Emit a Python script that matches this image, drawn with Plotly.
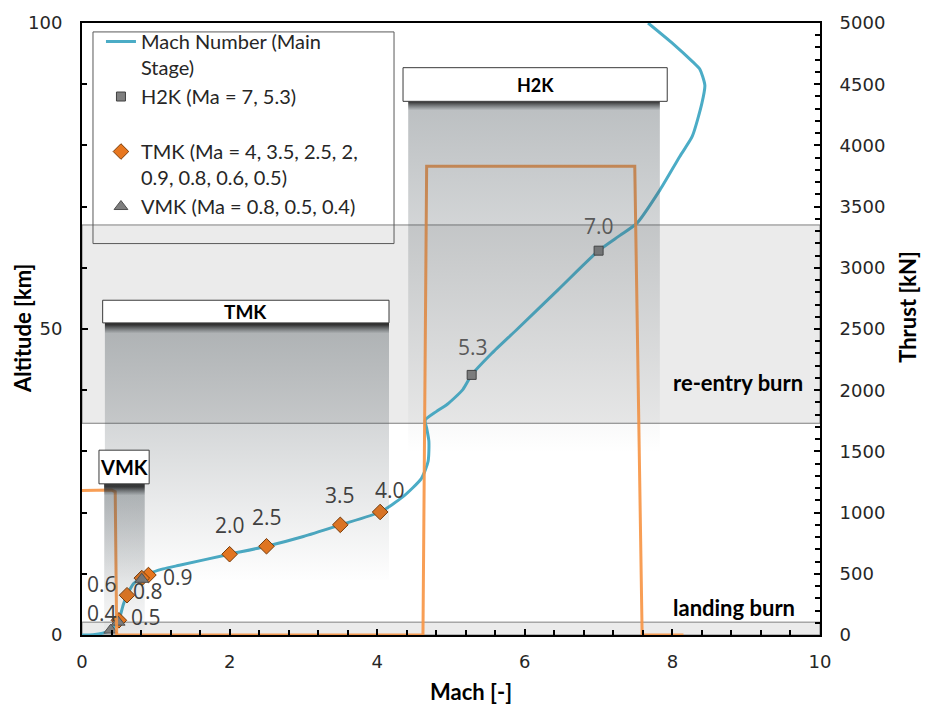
import plotly.graph_objects as go

# ---------------- data ----------------
# Mach number of the main stage along the trajectory (Mach, altitude km)
mach_curve_mach = [0.00, 0.15, 0.28, 0.39, 0.45, 0.50, 0.56, 0.61, 0.70, 0.81, 0.90, 1.10, 1.32,
                   2.00, 2.50, 3.00, 3.50, 4.04, 4.35, 4.60, 4.69, 4.70, 4.67, 4.65, 4.80, 4.95,
                   5.16, 5.28, 5.55, 5.90, 6.45, 7.00, 7.29, 7.52, 7.83, 8.10, 8.27, 8.40, 8.44,
                   8.37, 8.28, 8.01, 7.67]
mach_curve_alt = [0.0, 0.05, 0.3, 0.8, 1.5, 2.4, 5.0, 6.5, 8.4, 9.4, 10.0, 10.8, 11.4,
                  13.2, 14.5, 16.1, 18.0, 20.1, 22.6, 25.6, 28.4, 31.7, 33.8, 35.1, 36.5, 37.7,
                  40.1, 42.5, 46.0, 50.0, 56.4, 62.8, 65.3, 67.3, 72.7, 78.2, 81.5, 86.9, 89.8,
                  92.5, 93.6, 96.6, 100.0]

# Thrust (kN) vs Mach
thrust_mach = [0.00, 0.40, 0.45, 0.47, 4.62, 4.67, 7.49, 7.59, 8.15]
thrust_kN = [1180, 1185, 1170, 0, 0, 3830, 3830, 0, 0]

# Engine measurement points
h2k_mach = [7.00, 5.28]
h2k_alt = [62.8, 42.5]
h2k_labels = ["7.0", "5.3"]

tmk_mach = [4.04, 3.50, 2.50, 2.00, 0.90, 0.81, 0.61, 0.50]
tmk_alt = [20.1, 18.0, 14.5, 13.2, 9.8, 9.3, 6.5, 2.4]
tmk_labels = ["4.0", "3.5", "2.5", "2.0", "0.9", "0.8", "0.6", "0.5"]

vmk_mach = [0.81, 0.49, 0.39]
vmk_alt = [9.1, 2.1, 0.8]
vmk_labels = ["0.8", "0.5", "0.4"]

# Engine operating ranges
engine_names = ["VMK", "TMK", "H2K"]
engine_mach_min = [0.30, 0.31, 4.42]
engine_mach_max = [0.85, 4.16, 7.83]
engine_alt_top = [24.7, 51.0, 87.2]
engine_alt_bottom = [0.0, 9.0, 30.0]

# Burn phases (altitude km)
reentry_alt = [34.6, 67.0]
landing_alt = [0.0, 2.1]

# ---------------- styling ----------------
BLUE = "#4bacc6"
ORANGE = "rgba(247,150,70,0.92)"
TXT = "Lato"
NUM = "DejaVu Sans"

label_boxes = {  # x0, x1, y0, y1 in data units, font size (layout only)
    "VMK": (0.23, 0.91, 24.7, 30.2, 20),
    "TMK": (0.28, 4.16, 51.0, 54.7, 19),
    "H2K": (4.35, 7.93, 87.2, 92.7, 18),
}

label_shift = {
    ("H2K", "7.0"): (0, 25), ("H2K", "5.3"): (1, 28),
    ("TMK", "4.0"): (10, 22), ("TMK", "3.5"): (0, 30), ("TMK", "2.5"): (0, 29),
    ("TMK", "2.0"): (0, 29), ("TMK", "0.9"): (30, -2), ("TMK", "0.8"): (6, -13),
    ("TMK", "0.6"): (-25, 11), ("TMK", "0.5"): (27, 3),
    ("VMK", "0.4"): (-9, 17),
}

fig = go.Figure()

# Mach curve
fig.add_trace(go.Scatter(x=mach_curve_mach, y=mach_curve_alt, mode="lines",
                         line=dict(color=BLUE, width=3, shape="spline", smoothing=0.6),
                         name="Mach Number (Main<br>Stage)", hoverinfo="skip"))

fig.add_trace(go.Scatter(x=h2k_mach, y=h2k_alt, mode="markers",
                         marker=dict(symbol="square", size=9, color="#808080",
                                     line=dict(color="#404040", width=1)),
                         name="H2K (Ma = 7, 5.3)<br>\u00a0"))
fig.add_trace(go.Scatter(x=tmk_mach, y=tmk_alt, mode="markers",
                         marker=dict(symbol="diamond", size=12, color="#e8771f",
                                     line=dict(color="#7a3a05", width=1)),
                         name="TMK (Ma = 4, 3.5, 2.5, 2,<br>0.9, 0.8, 0.6, 0.5)"))
fig.add_trace(go.Scatter(x=vmk_mach, y=vmk_alt, mode="markers",
                         marker=dict(symbol="triangle-up", size=12, color="#7f7f7f",
                                     line=dict(color="#505050", width=1)),
                         name="VMK (Ma = 0.8, 0.5, 0.4)"))

# thrust on secondary axis
fig.add_trace(go.Scatter(x=thrust_mach, y=thrust_kN, yaxis="y2", mode="lines",
                         line=dict(color=ORANGE, width=3), showlegend=False,
                         hoverinfo="skip", cliponaxis=False))

# gradient engine boxes (on a hidden overlay axis so they sit above the curves)
for name, x0, x1, top, bot in zip(engine_names, engine_mach_min, engine_mach_max,
                                  engine_alt_top, engine_alt_bottom):
    s = 1 - 1.4 / (top - bot)
    fig.add_trace(go.Scatter(
        x=[x0, x1, x1, x0, x0], y=[bot, bot, top, top, bot], yaxis="y3",
        mode="none", fill="toself",
        fillgradient=dict(type="vertical", start=bot, stop=top,
                          colorscale=[[0, "rgba(70,80,86,0)"],
                                      [s, "rgba(70,80,86,0.36)"],
                                      [1, "rgba(30,30,30,0.9)"]]),
        showlegend=False, hoverinfo="skip"))

shapes = []
# burn bands
for (y0, y1) in [reentry_alt, landing_alt]:
    shapes.append(dict(type="rect", xref="x", yref="y", x0=0, x1=10, y0=y0, y1=y1,
                       fillcolor="#ebebeb", line=dict(color="#7f7f7f", width=1), layer="below"))

# legend frame
shapes.append(dict(type="rect", xref="paper", yref="paper", x0=0.0149, x1=0.4228, y0=0.6396, y1=0.9854,
                   line=dict(color="#595959", width=1), fillcolor="rgba(0,0,0,0)", layer="above"))

annotations = []
for name, (x0, x1, y0, y1, fs) in label_boxes.items():
    shapes.append(dict(type="rect", xref="x", yref="y", x0=x0, x1=x1, y0=y0, y1=y1,
                       fillcolor="white", line=dict(color="#3a3a3a", width=1), layer="above"))
    annotations.append(dict(x=(x0 + x1) / 2, y=(y0 + y1) / 2, xref="x", yref="y", text=f"<b>{name}</b>",
                            showarrow=False, xanchor="center",
                            font=dict(family=TXT, size=fs, color="black")))

for series, xs, ys, labs, col in [("H2K", h2k_mach, h2k_alt, h2k_labels, "#595959"),
                                  ("TMK", tmk_mach, tmk_alt, tmk_labels, "#404040"),
                                  ("VMK", vmk_mach, vmk_alt, vmk_labels, "#404040")]:
    for x, y, lab in zip(xs, ys, labs):
        if (series, lab) not in label_shift:
            continue
        dx, dy = label_shift[(series, lab)]
        annotations.append(dict(x=x, y=y, xref="x", yref="y", text=lab, showarrow=False,
                                xshift=dx, yshift=dy, xanchor="center", borderpad=0,
                                font=dict(family="Open Sans", size=21, color=col)))

annotations += [
    dict(x=9.8, y=41.2, xref="x", yref="y", text="<b>re-entry burn</b>", showarrow=False,
         xanchor="right", font=dict(family=TXT, size=22, color="black")),
    dict(x=9.69, y=4.5, xref="x", yref="y", text="<b>landing burn</b>", showarrow=False,
         xanchor="right", font=dict(family=TXT, size=22, color="black")),
    dict(x=-0.0813, y=0.5, xref="paper", yref="paper", text="<b>Altitude [km]</b>", textangle=-90,
         xanchor="center", yanchor="middle",
         showarrow=False, font=dict(family=TXT, size=22, color="black")),
    dict(x=0.527, y=-0.0925, xref="paper", yref="paper", text="<b>Mach [-]</b>",
         xanchor="center", yanchor="middle",
         showarrow=False, font=dict(family=TXT, size=22, color="black")),
    dict(x=1.119, y=0.536, xref="paper", yref="paper", text="<b>Thrust [kN]</b>", textangle=-90,
         xanchor="center", yanchor="middle",
         showarrow=False, font=dict(family=TXT, size=22, color="black")),
]

axis_common = dict(showgrid=False, zeroline=False, showline=True, linewidth=2, linecolor="black",
                   ticks="inside", ticklen=6, tickwidth=2, tickcolor="black",
                   tickfont=dict(family=NUM, size=18, color="#262626"))

fig.update_layout(
    width=931, height=714,
    margin=dict(l=82, r=111, t=19, b=79),
    plot_bgcolor="white", paper_bgcolor="white",
    xaxis=dict(range=[0, 10], tickmode="linear", tick0=0, dtick=2, mirror=True,
               ticklabelstandoff=9,
               minor=dict(dtick=0.4, ticks="inside", ticklen=5, tickwidth=2, tickcolor="black"),
               **axis_common),
    yaxis=dict(range=[0, 100], tickmode="linear", tick0=0, dtick=50, ticklabelstandoff=14,
               minor=dict(dtick=10, ticks="inside", ticklen=5, tickwidth=2, tickcolor="black"),
               **axis_common),
    yaxis2=dict(range=[0, 5000], overlaying="y", side="right", tickmode="linear", tick0=0, dtick=500,
                ticklabelstandoff=14,
                minor=dict(dtick=100, ticks="inside", ticklen=5, tickwidth=2, tickcolor="black"),
                **axis_common),
    yaxis3=dict(range=[0, 100], overlaying="y", visible=False, showgrid=False, zeroline=False),
    legend=dict(x=0.0257, y=1.0016, xanchor="left", yanchor="top", bgcolor="rgba(0,0,0,0)",
                borderwidth=0, valign="top",
                font=dict(family=TXT, size=20, color="#262626")),
    shapes=shapes, annotations=annotations,
)

fig.write_html("out.html")
